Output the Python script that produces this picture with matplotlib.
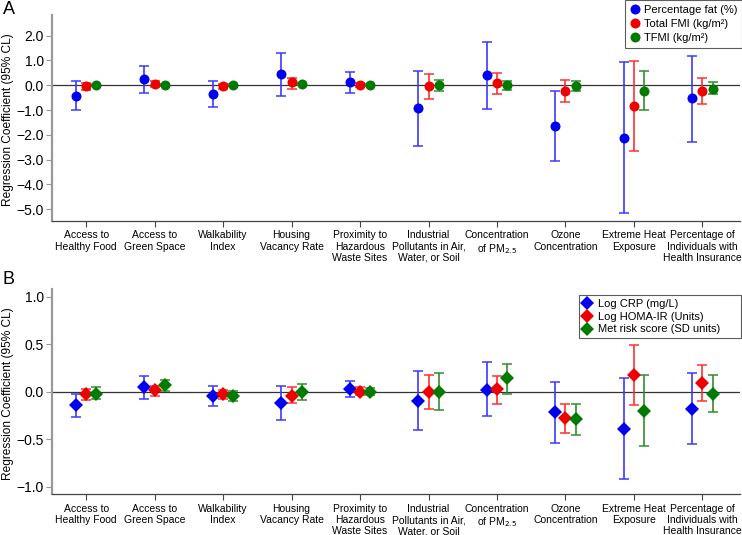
import matplotlib
matplotlib.use("Agg")
import matplotlib.pyplot as plt
import numpy as np

plt.rcParams['font.family'] = ['Liberation Sans', 'DejaVu Sans']

categories = ["Access to\nHealthy Food", "Access to\nGreen Space", "Walkability\nIndex",
              "Housing\nVacancy Rate", "Proximity to\nHazardous\nWaste Sites",
              "Industrial\nPollutants in Air,\nWater, or Soil", "Concentration\nof PM$_{2.5}$",
              "Ozone\nConcentration", "Extreme Heat\nExposure",
              "Percentage of\nIndividuals with\nHealth Insurance"]

# Panel A
a_labels = ["Percentage fat (%)", "Total FMI (kg/m\u00b2)", "TFMI (kg/m\u00b2)"]
a_fat = [-0.42, 0.24, -0.35, 0.44, 0.11, -0.93, 0.43, -1.65, -2.12, -0.52]
a_fat_lo = [-1.00, -0.31, -0.86, -0.43, -0.31, -2.43, -0.94, -3.06, -5.15, -2.27]
a_fat_hi = [0.17, 0.79, 0.17, 1.29, 0.54, 0.59, 1.76, -0.23, 0.94, 1.19]
a_fmi = [-0.04, 0.05, -0.05, 0.12, 0.02, -0.04, 0.07, -0.23, -0.83, -0.23]
a_fmi_lo = [-0.18, -0.08, -0.15, -0.14, -0.06, -0.54, -0.36, -0.67, -2.64, -0.77]
a_fmi_hi = [0.10, 0.17, 0.05, 0.30, 0.10, 0.44, 0.48, 0.20, 0.98, 0.29]
a_tfmi = [-0.01, 0.00, 0.00, 0.05, 0.00, 0.00, 0.00, -0.04, -0.23, -0.14]
a_tfmi_lo = [-0.05, -0.04, -0.04, 0.00, -0.03, -0.22, -0.19, -0.24, -1.01, -0.36]
a_tfmi_hi = [0.03, 0.04, 0.04, 0.10, 0.03, 0.20, 0.19, 0.15, 0.59, 0.11]

# Panel B
b_labels = ["Log CRP (mg/L)", "Log HOMA-IR (Units)", "Met risk score (SD units)"]
b_crp = [-0.144, 0.046, -0.046, -0.119, 0.025, -0.098, 0.018, -0.218, -0.396, -0.179]
b_crp_lo = [-0.263, -0.077, -0.154, -0.302, -0.056, -0.407, -0.256, -0.537, -0.923, -0.554]
b_crp_hi = [-0.028, 0.165, 0.063, 0.063, 0.116, 0.214, 0.312, 0.102, 0.147, 0.193]
b_homa = [-0.028, 0.018, -0.025, -0.039, 0.0, -0.007, 0.025, -0.274, 0.172, 0.095]
b_homa_lo = [-0.088, -0.039, -0.074, -0.116, -0.035, -0.186, -0.130, -0.435, -0.144, -0.095]
b_homa_hi = [0.032, 0.063, 0.018, 0.053, 0.046, 0.182, 0.165, -0.126, 0.495, 0.284]
b_met = [-0.021, 0.070, -0.046, -0.007, 0.0, 0.0, 0.144, -0.288, -0.200, -0.028]
b_met_lo = [-0.081, 0.010, -0.098, -0.088, -0.030, -0.196, -0.018, -0.456, -0.575, -0.218]
b_met_hi = [0.046, 0.123, 0.010, 0.081, 0.040, 0.200, 0.295, -0.126, 0.182, 0.172]

colors = ["#0000ee", "#ee0000", "#007a00"]
ecolors = ["#3a3aff", "#ff3030", "#2f8f2f"]
offsets = [-0.15, 0.0, 0.15]

fig = plt.figure(figsize=(7.42, 5.35), dpi=100)
axA = fig.add_axes([52/742, 1-220.7/535, 688/742, (220.7-15)/535])
axB = fig.add_axes([52/742, 1-494.3/535, 688/742, (494.3-289.3)/535])

x = np.arange(len(categories))
xfont = ['Liberation Sans Narrow', 'Liberation Sans', 'DejaVu Sans']

def draw(ax, series, labels, marker, ms):
    handles = []
    for i, (v, lo, hi) in enumerate(series):
        v = np.array(v); lo = np.array(lo); hi = np.array(hi)
        ax.errorbar(x + offsets[i], v, yerr=[v - lo, hi - v], fmt='none',
                    ecolor=ecolors[i], elinewidth=1.2, capsize=3.5, capthick=1.1, zorder=3)
        h, = ax.plot(x + offsets[i], v, linestyle='none', marker=marker, ms=ms,
                     color=colors[i], markeredgewidth=0, label=labels[i], zorder=4)
        handles.append(h)
    ax.axhline(0, color='#333333', lw=0.9, zorder=2)
    ax.set_xlim(-0.5, 9.55)
    ax.set_xticks(x)
    ax.set_xticklabels(categories, fontsize=7.5, linespacing=1.15, family=xfont)
    for s in ['top', 'right']:
        ax.spines[s].set_visible(False)
    ax.spines['left'].set_color('#999999')
    ax.spines['left'].set_linewidth(1.6)
    ax.spines['bottom'].set_color('#444444')
    ax.spines['bottom'].set_linewidth(0.9)
    ax.tick_params(axis='x', length=4, color='#444444', pad=3)
    ax.tick_params(axis='y', length=4, color='#999999', labelsize=10, pad=2)
    ax.set_ylabel("Regression Coefficient (95% CL)", fontsize=8.6, va='center')
    ax.yaxis.set_label_coords(-0.064, 0.49)
    return handles

hA = draw(axA, [(a_fat, a_fat_lo, a_fat_hi), (a_fmi, a_fmi_lo, a_fmi_hi),
                (a_tfmi, a_tfmi_lo, a_tfmi_hi)], a_labels, 'o', 7.2)
axA.set_ylim(-5.46, 2.83)
at = np.arange(-5, 2.01, 1.0)
axA.set_yticks(at)
axA.set_yticklabels([f"{t:.1f}".replace('-', '\u2212') for t in at])
legA = axA.legend(handles=hA, loc='upper right', bbox_to_anchor=(1.003, 1.073), fontsize=8,
                  frameon=True, fancybox=False, edgecolor='#333333', handlelength=0.8,
                  handletextpad=0.4, borderpad=0.45, labelspacing=0.35, borderaxespad=0)
legA.get_frame().set_linewidth(0.8)

hB = draw(axB, [(b_crp, b_crp_lo, b_crp_hi), (b_homa, b_homa_lo, b_homa_hi),
                (b_met, b_met_lo, b_met_hi)], b_labels, 'D', 7)
axB.set_ylim(-1.08, 1.08)
bt = [-1.0, -0.5, 0.0, 0.5, 1.0]
axB.set_yticks(bt)
axB.set_yticklabels([f"{t:.1f}".replace('-', '\u2212') for t in bt])
legB = axB.legend(handles=hB, loc='upper left', bbox_to_anchor=(0.766, 0.0, 0.2355, 0.972),
                  mode='expand', fontsize=8,
                  frameon=True, fancybox=False, edgecolor='#333333', handlelength=0.8,
                  handletextpad=0.6, borderpad=0.35, labelspacing=0.25, borderaxespad=0)
legB.get_frame().set_linewidth(0.8)

fig.text(3/742, 1-10/535, "A", fontsize=13, va='center', ha='left')
fig.text(2/742, 1-279/535, "B", fontsize=13, va='center', ha='left')

fig.savefig("out.png", dpi=100)
